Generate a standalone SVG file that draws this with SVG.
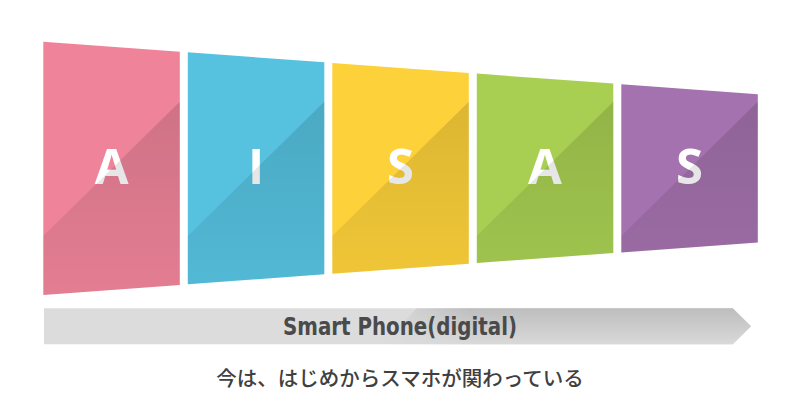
<svg xmlns="http://www.w3.org/2000/svg" width="800" height="420" viewBox="0 0 800 420">
<defs>
<linearGradient id="shade" gradientUnits="userSpaceOnUse" x1="0" y1="100" x2="0" y2="295">
<stop offset="0" stop-color="#000" stop-opacity="0.13"/>
<stop offset="1" stop-color="#000" stop-opacity="0.045"/>
</linearGradient>
<linearGradient id="barShade" gradientUnits="userSpaceOnUse" x1="0" y1="308" x2="0" y2="344">
<stop offset="0" stop-color="#bdbdbd"/>
<stop offset="1" stop-color="#d9d9d9"/>
</linearGradient>
<linearGradient id="barFade" gradientUnits="userSpaceOnUse" x1="380" y1="0" x2="470" y2="0">
<stop offset="0" stop-color="#fff" stop-opacity="0"/>
<stop offset="1" stop-color="#fff" stop-opacity="1"/>
</linearGradient>
<mask id="fadeMask"><rect x="0" y="300" width="800" height="50" fill="url(#barFade)"/></mask>
</defs>
<style>
.letter{font-family:"Open Sans","Liberation Sans",sans-serif;font-weight:700;font-size:49px;fill:#fff;text-anchor:middle}
.shade{fill:url(#shade)}
.bar-label{font-family:"DejaVu Sans Condensed","Liberation Sans",sans-serif;font-weight:bold;font-size:24.5px;fill:#4a4a4a;text-anchor:middle}
.caption{font-family:"Noto Sans CJK JP",sans-serif;font-weight:500;font-size:20.5px;fill:#404040;text-anchor:middle}
</style>
<rect width="800" height="420" fill="#fff"/>

<g id="panel-A1">
<polygon points="43.3,41.7 179.8,51.7 179.8,285 43.3,295" fill="#ee8399"/>
<text class="letter" x="111.6" y="184">A</text>
<polygon class="shade" points="179.8,101.7 179.8,285 43.3,295 43.3,236"/>
</g>
<g id="panel-I">
<polygon points="187.8,52.3 324.3,62.3 324.3,274.3 187.8,284.3" fill="#56c2e0"/>
<text class="letter" x="256" y="184">I</text>
<polygon class="shade" points="324.3,101.7 324.3,274.3 187.8,284.3 187.8,236"/>
</g>
<g id="panel-S1">
<polygon points="332.3,63 468.8,73 468.8,263.7 332.3,273.7" fill="#fdd13a"/>
<text class="letter" x="400.5" y="184">S</text>
<polygon class="shade" points="468.8,101.7 468.8,263.7 332.3,273.7 332.3,236"/>
</g>
<g id="panel-A2">
<polygon points="476.8,73.6 613.3,83.6 613.3,253 476.8,263" fill="#a8cf52"/>
<text class="letter" x="545" y="184">A</text>
<polygon class="shade" points="613.3,101.7 613.3,253 476.8,263 476.8,236"/>
</g>
<g id="panel-S2">
<polygon points="621.3,84.3 757.8,94.3 757.8,242.4 621.3,252.4" fill="#a472ae"/>
<text class="letter" x="689.5" y="184">S</text>
<polygon class="shade" points="757.8,101.7 757.8,242.4 621.3,252.4 621.3,236"/>
</g>

<g id="bar">
<polygon points="44,308.3 732.7,308.3 751,326.3 732.7,344.3 44,344.3" fill="#dcdcdc"/>
<polygon points="417,308.3 732.7,308.3 751,326.3 732.7,344.3 381,344.3" fill="url(#barShade)" mask="url(#fadeMask)"/>
<text class="bar-label" x="400" y="335" textLength="234" lengthAdjust="spacingAndGlyphs">Smart Phone(digital)</text>
</g>

<text class="caption" x="400" y="386">今は、はじめからスマホが関わっている</text>
</svg>
